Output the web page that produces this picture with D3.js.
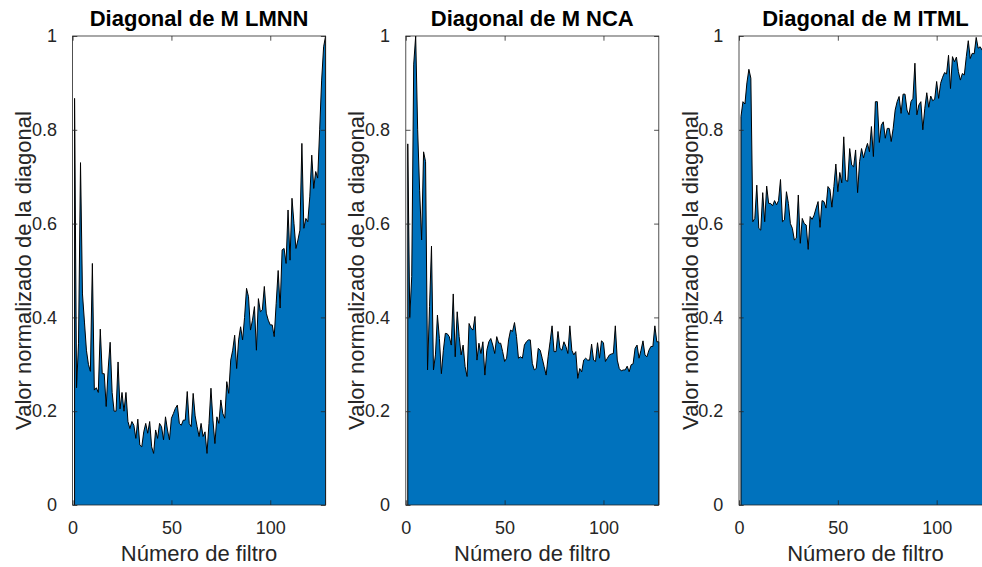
<!DOCTYPE html>
<html>
<head>
<meta charset="utf-8">
<script src="https://cdn.jsdelivr.net/npm/d3@7"></script>
<style>
  html, body { margin: 0; padding: 0; background: #fff; }
  svg { display: block; }
  text { font-family: "Liberation Sans", Arial, Helvetica, sans-serif; }
</style>
</head>
<body>
<svg id="chart" width="982" height="567"></svg>
<script>
// ---- data ----
const titles = ["Diagonal de M LMNN", "Diagonal de M NCA", "Diagonal de M ITML"];
const xLabel = "Número de filtro";
const yLabel = "Valor normalizado de la diagonal";
const xTicks = [0, 50, 100];
const yTicks = [0, 0.2, 0.4, 0.6, 0.8, 1];

const lmnn = [
  0.867, 0.25, 0.345, 0.73, 0.45, 0.39, 0.33, 0.30, 0.285, 0.515,
  0.245, 0.25, 0.24, 0.375, 0.28, 0.28, 0.21, 0.29, 0.347, 0.24,
  0.20, 0.20, 0.305, 0.205, 0.24, 0.20, 0.24, 0.178, 0.163, 0.178,
  0.17, 0.142, 0.183, 0.128, 0.124, 0.156, 0.174, 0.153, 0.178, 0.124,
  0.11, 0.16, 0.142, 0.174, 0.167, 0.139, 0.188, 0.16, 0.139, 0.185,
  0.195, 0.206, 0.213, 0.174, 0.17, 0.181, 0.181, 0.242, 0.174, 0.167,
  0.238, 0.19, 0.167, 0.146, 0.174, 0.146, 0.156, 0.11, 0.174, 0.249,
  0.181, 0.131, 0.188, 0.174, 0.224, 0.195, 0.185, 0.263, 0.238, 0.309,
  0.33, 0.362, 0.291, 0.352, 0.38, 0.352, 0.40, 0.462, 0.444, 0.373,
  0.394, 0.423, 0.33, 0.44, 0.412, 0.416, 0.466, 0.409, 0.394, 0.384,
  0.384, 0.359, 0.43, 0.50, 0.42, 0.544, 0.547, 0.515, 0.629, 0.522,
  0.654, 0.60, 0.547, 0.565, 0.586, 0.771, 0.59, 0.611, 0.604, 0.657,
  0.746, 0.675, 0.711, 0.697, 0.80, 0.906, 0.977, 1.0
];

const nca = [
  0.77, 0.40, 0.487, 0.94, 1.0, 0.80, 0.67, 0.565, 0.753, 0.732,
  0.288, 0.423, 0.552, 0.288, 0.32, 0.405, 0.355, 0.28, 0.33, 0.366,
  0.365, 0.359, 0.341, 0.45, 0.316, 0.412, 0.359, 0.32, 0.341, 0.295,
  0.274, 0.387, 0.377, 0.373, 0.402, 0.309, 0.345, 0.323, 0.348, 0.277,
  0.33, 0.348, 0.355, 0.341, 0.323, 0.359, 0.345, 0.345, 0.327, 0.306,
  0.313, 0.352, 0.373, 0.37, 0.389, 0.359, 0.313, 0.316, 0.313, 0.341,
  0.348, 0.352, 0.352, 0.302, 0.288, 0.291, 0.334, 0.33, 0.313, 0.295,
  0.277, 0.316, 0.348, 0.382, 0.327, 0.327, 0.37, 0.334, 0.33, 0.348,
  0.338, 0.323, 0.382, 0.33, 0.32, 0.327, 0.27, 0.291, 0.284, 0.309,
  0.313, 0.309, 0.309, 0.343, 0.309, 0.306, 0.346, 0.313, 0.35, 0.346,
  0.306, 0.313, 0.32, 0.322, 0.323, 0.382, 0.309, 0.291, 0.286, 0.288,
  0.288, 0.296, 0.284, 0.299, 0.301, 0.334, 0.341, 0.313, 0.33, 0.35,
  0.32, 0.316, 0.33, 0.338, 0.338, 0.382, 0.348, 0.348
];

const itml = [
  0.828, 0.86, 0.855, 0.9, 0.929, 0.91, 0.604, 0.611, 0.682, 0.59,
  0.586, 0.666, 0.604, 0.68, 0.643, 0.643, 0.638, 0.649, 0.64, 0.649,
  0.694, 0.604, 0.608, 0.668, 0.643, 0.60, 0.59, 0.565, 0.569, 0.661,
  0.558, 0.611, 0.60, 0.597, 0.545, 0.615, 0.609, 0.618, 0.633, 0.647,
  0.592, 0.649, 0.647, 0.633, 0.679, 0.673, 0.635, 0.679, 0.727, 0.668,
  0.709, 0.687, 0.785, 0.692, 0.69, 0.76, 0.725, 0.721, 0.757, 0.666,
  0.732, 0.76, 0.74, 0.757, 0.771, 0.753, 0.807, 0.743, 0.86, 0.86,
  0.773, 0.81, 0.817, 0.782, 0.803, 0.803, 0.775, 0.803, 0.842, 0.86,
  0.871, 0.835, 0.876, 0.876, 0.842, 0.832, 0.86, 0.867, 0.942, 0.832,
  0.853, 0.86, 0.80, 0.846, 0.879, 0.848, 0.872, 0.862, 0.865, 0.903,
  0.867, 0.899, 0.912, 0.922, 0.919, 0.959, 0.888, 0.956, 0.945, 0.955,
  0.924, 0.906, 0.92, 0.917, 0.956, 0.99, 0.952, 0.963, 0.962, 0.997,
  0.974, 0.977, 0.97, 0.985, 0.98, 0.99, 0.975, 0.985
];

const seriesList = [lmnn, nca, itml];

// ---- layout ----
const panelLefts = [72.6, 405.8, 739];
const panelW = 253;
const plotTop = 36, plotBottom = 505;
const tickLen = 4.7;
const axisColor = "#262626";
const fillColor = "#0072BD";

const svg = d3.select("#chart");

seriesList.forEach((vals, p) => {
  const left = panelLefts[p];
  const x = d3.scaleLinear().domain([0, 128]).range([left, left + panelW]);
  const y = d3.scaleLinear().domain([0, 1]).range([plotBottom, plotTop]);
  const g = svg.append("g");

  const pts = vals.map((v, i) => [i + 1, v]);
  const area = d3.area().x(d => x(d[0])).y0(y(0)).y1(d => y(d[1]));
  g.append("path").datum(pts).attr("d", area)
    .attr("fill", fillColor).attr("stroke", "none");
  const poly = [[pts[0][0], 0], ...pts, [pts[pts.length - 1][0], 0]];
  g.append("path").datum(poly)
    .attr("d", d3.line().x(d => x(d[0])).y(d => y(d[1])))
    .attr("fill", "none").attr("stroke", "#000").attr("stroke-width", 1)
    .attr("stroke-linejoin", "round");

  g.append("rect")
    .attr("x", x(0)).attr("y", plotTop)
    .attr("width", x(128) - x(0)).attr("height", plotBottom - plotTop)
    .attr("fill", "none").attr("stroke", axisColor).attr("stroke-width", 0.8);

  const xAxis = d3.axisBottom(x).tickValues(xTicks).tickSize(-tickLen).tickPadding(12 + tickLen).tickFormat(d3.format("d"));
  const xg = g.append("g").attr("transform", `translate(0,${plotBottom})`).call(xAxis);
  const xTop = d3.axisTop(x).tickValues(xTicks).tickSize(-tickLen).tickFormat("");
  const xtg = g.append("g").attr("transform", `translate(0,${plotTop})`).call(xTop);
  const yAxis = d3.axisLeft(y).tickValues(yTicks).tickSize(-tickLen).tickPadding(11 + tickLen).tickFormat(d => d === 0 || d === 1 ? d3.format("d")(d) : d3.format(".1f")(d));
  const yg = g.append("g").attr("transform", `translate(${x(0)},0)`).call(yAxis);
  const yRight = d3.axisRight(y).tickValues(yTicks).tickSize(-tickLen).tickFormat("");
  const yrg = g.append("g").attr("transform", `translate(${x(128)},0)`).call(yRight);

  [xg, xtg, yg, yrg].forEach(a => {
    a.select(".domain").remove();
    a.selectAll(".tick line").attr("stroke", axisColor).attr("stroke-width", 0.8);
    a.selectAll(".tick text").attr("fill", axisColor).style("font-size", "18px")
      .style("font-family", '"Liberation Sans", Arial, sans-serif');
  });
  xg.selectAll(".tick text").attr("dy", "0.71em");

  g.append("text")
    .attr("x", (x(0) + x(128)) / 2).attr("y", 26)
    .attr("text-anchor", "middle")
    .style("font-size", "22px").style("font-weight", "bold").attr("fill", "#000")
    .text(titles[p]);

  g.append("text")
    .attr("x", (x(0) + x(128)) / 2).attr("y", 561)
    .attr("text-anchor", "middle")
    .style("font-size", "22px").attr("fill", axisColor)
    .text(xLabel);

  g.append("text")
    .attr("transform", `translate(${left - 41.5},${(plotTop + plotBottom) / 2}) rotate(-90)`)
    .attr("text-anchor", "middle")
    .style("font-size", "22px").attr("fill", axisColor)
    .text(yLabel);
});
</script>
</body>
</html>
